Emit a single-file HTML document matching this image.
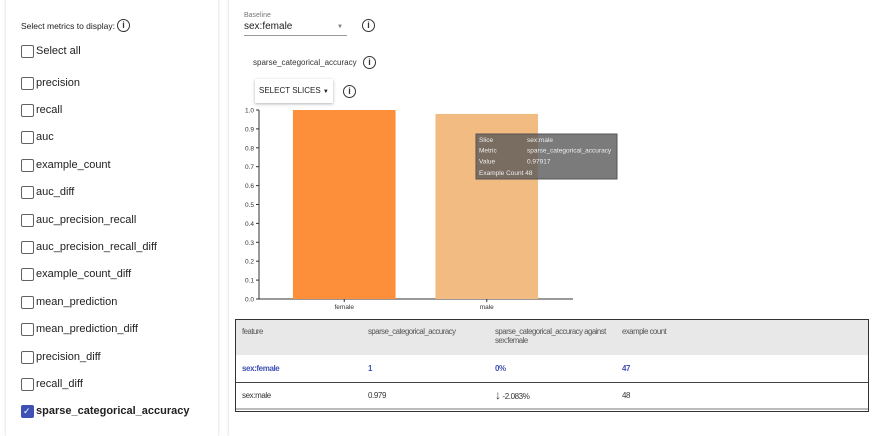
<!DOCTYPE html>
<html><head><meta charset="utf-8">
<style>
body{margin:0;width:875px;height:427px;overflow:hidden;background:#fff;font-family:"Liberation Sans",sans-serif;position:relative;color:#212121}
.abs{position:absolute}
.card1{left:6px;top:-4px;width:212px;height:440px;box-shadow:0 0 3px rgba(0,0,0,.18);background:#fff}
.card2{left:229px;top:-4px;width:650px;height:440px;box-shadow:0 0 3px rgba(0,0,0,.18);background:#fff}
.cb{position:absolute;left:21px;width:13px;height:13px;box-sizing:border-box;border:1.5px solid #5f6368;border-radius:2px}
.lbl{position:absolute;left:36px;font-size:11px;line-height:13px;color:#212121}
.info{position:absolute;width:11px;height:11px;border:1.3px solid #333;border-radius:50%;font-size:9px;line-height:11px;text-align:center;font-weight:bold;color:#333}
table{border-collapse:collapse;font-size:8px;letter-spacing:-0.4px;table-layout:fixed}
td{padding:0;white-space:nowrap;overflow:visible}
</style></head><body>
<div class="abs card1"></div>
<div class="abs card2"></div>

<div class="abs" style="left:21px;top:21px;font-size:8.5px">Select metrics to display:</div>
<div class="info" style="left:117px;top:19px">i</div>
<div id="metrics"></div>

<div class="abs" style="left:244px;top:12px;font-size:7px;color:#777">Baseline</div>
<div class="abs" style="left:244px;top:21px;width:103px;height:14px;border-bottom:1px solid #999;font-size:10px">sex:female<span style="position:absolute;right:4px;top:3px;font-size:6px;color:#777">▼</span></div>
<div class="info" style="left:362px;top:19px">i</div>
<div class="abs" style="left:253px;top:58px;font-size:8px;color:#333">sparse_categorical_accuracy</div>
<div class="info" style="left:363px;top:56px">i</div>
<div class="abs" style="left:255px;top:79px;width:78px;height:24px;box-shadow:0 1px 3px rgba(0,0,0,.3);font-size:8px;line-height:24px;padding-left:4px;box-sizing:border-box">SELECT SLICES <span style="font-size:6px">▼</span></div>
<div class="info" style="left:343px;top:85px">i</div>

<svg class="abs" style="left:0;top:0" width="875" height="427" id="chart" font-family="Liberation Sans, sans-serif"></svg>

<div class="abs" style="left:235px;top:319px;width:634px;height:93px;border:1.5px solid #333;box-sizing:border-box">
<table style="width:100%">
<colgroup><col style="width:132px"><col style="width:127px"><col style="width:127px"><col></colgroup>
<tr style="background:#e8e8e8;height:35px;vertical-align:top;color:#555;font-size:7.8px;letter-spacing:-0.5px"><td style="padding:7px 0 0 6px">feature</td><td style="padding-top:7px">sparse_categorical_accuracy</td><td style="padding-top:7px">sparse_categorical_accuracy against<br>sex:female</td><td style="padding-top:7px">example count</td></tr>
<tr style="height:27px;color:#3f51b5;font-weight:bold;border-bottom:1px solid #444"><td style="padding-left:6px">sex:female</td><td>1</td><td>0%</td><td>47</td></tr>
<tr style="height:27px;color:#333;border-bottom:2px solid #bbb"><td style="padding-left:6px">sex:male</td><td>0.979</td><td><span style="font-size:12px">↓</span> -2.083%</td><td>48</td></tr>
</table></div>

<script>
const metricNames=["precision","recall","auc","example_count","auc_diff","auc_precision_recall","auc_precision_recall_diff","example_count_diff","mean_prediction","mean_prediction_diff","precision_diff","recall_diff","sparse_categorical_accuracy"];
const m=document.getElementById('metrics');
function addItem(y,text,checked,name){
  const c=document.createElement('div');c.className='cb';c.style.top=(y-6.5)+'px';
  if(checked){c.style.background='#3f51b5';c.style.borderColor='#3f51b5';c.innerHTML='<span style="color:#fff;font-size:9px;position:absolute;left:1px;top:0px">✓</span>';}
  
  
  m.appendChild(c);
  const l=document.createElement('div');l.className='lbl';l.style.top=(y-6.5)+'px';l.textContent=text;
  if(checked)l.style.fontWeight='bold';
  
  
  m.appendChild(l);
}
addItem(51,'Select all',false,'select-all');
metricNames.forEach((n,i)=>addItem(83+i*27.4,n,i===12,n.replace(/_/g,'-')));

const categories=["female","male"];
const values=[1,0.97917];
const colors=["#fd8e3a","#f2bb82"];
const yTicks=[0,0.1,0.2,0.3,0.4,0.5,0.6,0.7,0.8,0.9,1.0];
const svg=document.getElementById('chart');const NS='http://www.w3.org/2000/svg';
const x0=259,x1=573,yb=299,yt=110,padL=14,padR=15;
const y=v=>yb-(yb-yt)*v;
const band=(x1-x0-padL-padR)/categories.length;
const xc=i=>x0+padL+band*(i+0.5);
function el(t,a){const e=document.createElementNS(NS,t);for(const k in a)e.setAttribute(k,a[k]);svg.appendChild(e);return e;}
const ax=el('line',{x1:x0,y1:yt,x2:x0,y2:yb,stroke:'#333'});


const bx=el('line',{x1:x0,y1:yb,x2:x1,y2:yb,stroke:'#333'});


yTicks.forEach(v=>{
  el('line',{x1:x0-3,y1:y(v),x2:x0,y2:y(v),stroke:'#333'});
  const t=el('text',{x:x0-5,y:y(v)+2.5,'font-size':6.5,'text-anchor':'end',fill:'#333'});t.textContent=v.toFixed(1);
  
  
});
categories.forEach((c,i)=>{
  const bw=band*0.72;
  const r=el('rect',{x:xc(i)-bw/2,y:y(values[i]),width:bw,height:yb-y(values[i]),fill:colors[i]});
  
  
  el('line',{x1:xc(i),y1:yb,x2:xc(i),y2:yb+3,stroke:'#333'});
  const t=el('text',{x:xc(i),y:yb+10,'font-size':6.5,'text-anchor':'middle',fill:'#333'});t.textContent=c;
  
  
});
const g=el('rect',{x:476,y:134,width:141,height:45,fill:'rgba(90,90,90,0.8)',stroke:'#555'});


[["Slice","sex:male"],["Metric","sparse_categorical_accuracy"],["Value","0.97917"],["Example Count 48",""]].forEach((r,i)=>{
  const yy=142+i*10.7+(i==3?1:0);
  const a=el('text',{x:479,y:yy,'font-size':6.5,fill:'#eee'});a.textContent=r[0];
  const b=el('text',{x:527,y:yy,'font-size':6.5,fill:'#eee'});b.textContent=r[1];
});
</script>
</body></html>
